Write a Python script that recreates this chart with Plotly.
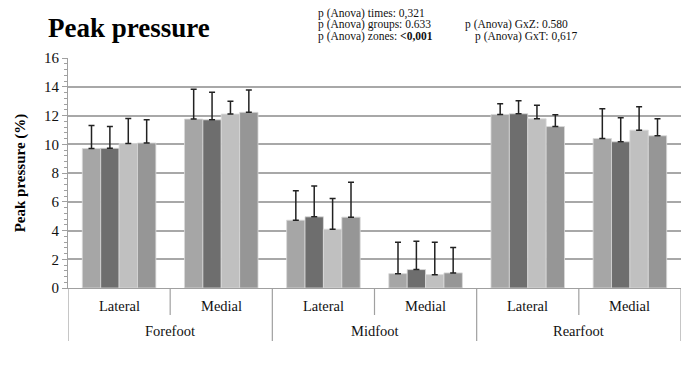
import plotly.graph_objects as go

# Foot zones (outer) and sides (inner)
zones = ["Forefoot", "Midfoot", "Rearfoot"]
sides = ["Lateral", "Medial"]

# Mean peak pressure (%) per zone/side for the four series
series_names = ["S1", "S2", "S3", "S4"]
means = [
    [9.70, 11.75, 4.72, 1.00, 12.07, 10.40],
    [9.72, 11.70, 4.95, 1.28, 12.12, 10.17],
    [10.05, 12.10, 4.09, 0.93, 11.77, 10.98],
    [10.09, 12.22, 4.93, 1.05, 11.23, 10.59],
]
# Standard deviations (upper error bars)
sds = [
    [1.61, 2.08, 2.05, 2.19, 0.75, 2.07],
    [1.52, 1.91, 2.15, 1.98, 0.91, 1.67],
    [1.75, 0.90, 2.14, 2.26, 0.95, 1.63],
    [1.61, 1.56, 2.42, 1.76, 0.82, 1.18],
]
colors = ["#a6a6a6", "#6e6e6e", "#c0c0c0", "#969696"]

# ANOVA summary lines: (text, left px, centre px)
stats_lines = [
    ("p (Anova) times: 0,321", 316, 13),
    ("p (Anova) groups: 0.633", 316, 25),
    ("p (Anova) zones: <b><0,001</b>", 316, 36),
    ("p (Anova) GxZ: 0.580", 463, 25),
    ("p (Anova) GxT: 0,617", 473, 36),
]

W, H = 688, 382
ML, MR, MT, MB = 68, 7, 58, 94
PW, PH = W - ML - MR, H - MT - MB
SERIF = "Liberation Serif, Times New Roman, serif"


def px_x(px):
    return (px - ML) / PW


def px_y(py):
    return (H - MB - py) / PH


positions = list(range(len(zones) * len(sides)))
inner_labels = [s for _ in zones for s in sides]

fig = go.Figure()
for name, vals, err, col in zip(series_names, means, sds, colors):
    fig.add_trace(go.Bar(
        x=positions, y=vals, name=name,
        marker=dict(color=col, line=dict(color="#d9d9d9", width=0.8)),
        error_y=dict(type="data", array=err, symmetric=False,
                     arrayminus=[0] * len(err), color="#222222",
                     thickness=1.5, width=3),
    ))

annotations = []
shapes = []
# inner category labels
for p, lab in zip(positions, inner_labels):
    annotations.append(dict(x=p, y=px_y(306), xref="x", yref="paper",
                            yanchor="middle", text=lab, showarrow=False,
                            font=dict(family=SERIF, size=14.5, color="#111")))
# outer group labels
for i, z in enumerate(zones):
    annotations.append(dict(x=i * 2 + 0.5, y=px_y(331), xref="x", yref="paper",
                            yanchor="middle", text=z, showarrow=False,
                            font=dict(family=SERIF, size=14.5, color="#111")))

# category dividers: short between sides, long between zones
for k in range(len(positions) + 1):
    xb = k - 0.5
    outer = (k % 2 == 0)
    bottom = 341 if outer else 315
    shapes.append(dict(type="line", xref="x", yref="paper", x0=xb, x1=xb,
                       y0=0, y1=px_y(bottom),
                       line=dict(color="#a0a0a0", width=1.2)))

for txt, px, py in stats_lines:
    annotations.append(dict(x=px_x(px), y=px_y(py), xref="paper", yref="paper",
                            xanchor="left", yanchor="middle", text=txt,
                            showarrow=False,
                            font=dict(family=SERIF, size=11.5, color="#111")))

annotations.append(dict(x=px_x(46), y=px_y(28), xref="paper", yref="paper",
                        xanchor="left", yanchor="middle", text="<b>Peak pressure</b>",
                        showarrow=False,
                        font=dict(family=SERIF, size=27, color="#000")))

fig.update_layout(
    width=W, height=H,
    margin=dict(l=ML, r=MR, t=MT, b=MB),
    paper_bgcolor="white", plot_bgcolor="white",
    barmode="group", bargap=0.28, bargroupgap=0,
    showlegend=False,
    annotations=annotations, shapes=shapes,
    xaxis=dict(range=[-0.5, 5.5], showticklabels=False, showgrid=False,
               zeroline=False, showline=True, linecolor="#a0a0a0", linewidth=1.2,
               ticks=""),
    yaxis=dict(range=[0, 16], dtick=2, showgrid=True, gridcolor="#a8a8a8",
               gridwidth=1.5, zeroline=False, showline=True, linecolor="#a0a0a0",
               linewidth=1.2, ticks="outside", ticklen=5, tickcolor="#a0a0a0",
               minor=dict(dtick=0.4, ticks="outside", ticklen=3, tickcolor="#a0a0a0",
                          showgrid=False),
               tickfont=dict(family=SERIF, size=15, color="#111"),
               title=dict(text="<b>Peak pressure (%)</b>", standoff=14,
                          font=dict(family=SERIF, size=15, color="#000"))),
)

fig.write_html("out.html")
